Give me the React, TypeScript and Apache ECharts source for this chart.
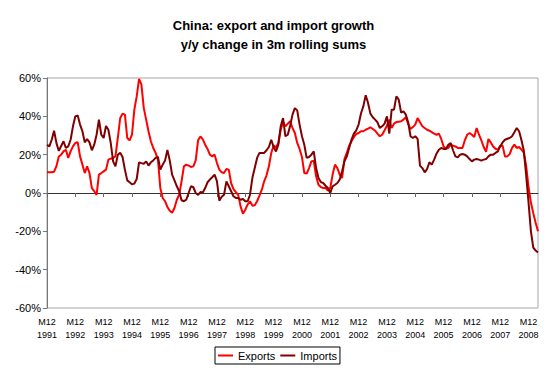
import React, { useEffect, useRef } from "react";
import * as echarts from "echarts";

// Monthly categories from M12 1991 to M4 2009
const START_YEAR = 1991;
const START_MONTH = 12;
const N_MONTHS = 209;
const categories: string[] = Array.from({ length: N_MONTHS }, (_, i) => {
  const m0 = START_MONTH - 1 + i;
  return `M${(m0 % 12) + 1} ${START_YEAR + Math.floor(m0 / 12)}`;
});

const yTicks = [-60, -40, -20, 0, 20, 40, 60];

const exportsGrowth: number[] = [
  10.8, 10.8, 10.8, 11.1, 14, 19, 20, 21.7, 22.6, 18.3, 21.7, 24.3,
  26.1, 26.5, 19.1, 14.8, 10.4, 13.9, 10.4, 2.6, 1, -1, 9.6, 10.4,
  11.3, 12.2, 17.4, 17.9, 18.3, 19.1, 28.7, 39, 41.4, 40.9, 28.7, 27.5,
  30.4, 43.5, 50.4, 59.5, 56.5, 44.3, 38.3, 32.2, 27, 23.5, 20.9, 17.4,
  2.6, -2.6, -4.3, -7.3, -9.3, -10.3, -7.8, -3.5, -0.9, 6.1, 13.9, 14.8,
  14.3, 13.6, 13.9, 17, 27.5, 29.5, 28, 25.2, 23, 20, 19.1, 20,
  15.6, 12.2, 10.8, 10.4, 12.5, 12.2, 5.2, 2, 0.5, -1, -7, -10.8,
  -8.7, -6, -4.3, -6.6, -6.4, -4.3, -1.4, 1.7, 6.1, 9.2, 13.9, 20.9,
  24.7, 23.8, 26.1, 33, 36.9, 34.8, 36.2, 37.4, 33.9, 31.3, 26.1, 23,
  18.8, 10.4, 10.1, 13, 16.5, 16.9, 8.7, 4.3, 3.1, 2.6, 2.6, 1.2,
  2.6, 9.6, 14.8, 13, 9.6, 7.8, 17.7, 20.9, 24.7, 27, 29.2, 30.8,
  31.3, 32.2, 32.2, 33, 33.6, 34.3, 33.4, 32.5, 31, 29.6, 30.4, 32.7,
  35.1, 38.3, 33.9, 36.2, 37, 37.2, 37.4, 38.3, 39.5, 36, 33.4, 34.4,
  35.7, 39.1, 36.9, 34.8, 33.9, 33, 32.5, 31.8, 31, 30.4, 31, 28.2,
  24.3, 23.1, 23.5, 25.2, 24.7, 24.3, 23.5, 23.5, 23.5, 27.5, 30.4, 31.3,
  30.4, 29.2, 33.9, 30.4, 27.5, 24, 21.5, 28.2, 26.4, 24.3, 23.1, 22.6,
  24.7, 24.7, 19.1, 19.1, 20.3, 23.5, 25.2, 23.5, 24, 22.6, 21, 14,
  3, -5, -10.5, -15.5, -20,
];

const importsGrowth: number[] = [
  25.2, 24.3, 27.8, 32.5, 26, 22, 24.5, 27, 23.5, 24.3, 27.8, 34.8,
  40, 40.5, 35.7, 32.2, 26.4, 28.2, 26.4, 22.3, 25.2, 30.4, 38.3, 30.4,
  28.7, 35, 33, 26.1, 16.5, 13.9, 20, 21, 18.8, 12.2, 6.6, 5.6,
  4.5, 4.9, 7.3, 16, 15.6, 15.3, 16.5, 14.3, 16, 17, 18.3, 18.8,
  12.2, 14.8, 16.9, 22.5, 17, 9.6, 6.6, 3.5, 0.9, -3.8, -4.3, -3.5,
  0, 3.5, 3, 0, -1, 0.5, 0.3, 2.6, 5.6, 7, 8.2, 9.6,
  6.1, -4, -2, -0.9, 6.1, 3.5, 0.9, -1.7, -2.6, -2.6, -3.5, -3.1,
  -4.3, -4.3, -0.9, 7.8, 13, 18.3, 20.9, 20.9, 20.9, 22.3, 24, 27.8,
  24, 21.7, 25.2, 34.8, 39.1, 29.6, 30.4, 35.1, 40.9, 44.3, 43.1, 35.7,
  29.6, 25.2, 18.3, 18.8, 20, 21.7, 13, 7.8, 5.7, 5.2, 3.8, 2.6,
  0, 3.5, 4.3, 5.2, 7, 11.3, 16.5, 19.1, 23.5, 27.8, 31, 32.7,
  35.7, 41.5, 45.2, 51, 47, 41.4, 39.5, 38.3, 36.9, 33.9, 34.8, 36.2,
  40, 31, 43.5, 43.5, 50.4, 48.7, 42, 42.6, 40.9, 36.9, 29.6, 28.7,
  29.6, 28.2, 14.3, 13, 10.8, 12.5, 16, 14.8, 17.4, 20.5, 22.6, 23.5,
  23, 23, 25.2, 26.1, 22.3, 19.1, 18.6, 20, 20.3, 20, 19.1, 17.7,
  16.5, 17.4, 17.7, 17.4, 16.9, 17.4, 17.7, 19.1, 20, 20, 20.9, 21.7,
  24.3, 26.4, 27.8, 28.3, 28.7, 29.6, 31.7, 33.9, 32.2, 27.5, 22, 9,
  -5, -20, -28.5, -30, -31,
];

const FONT = '"Liberation Sans", Arial, sans-serif';

export default function App() {
  const ref = useRef<HTMLDivElement>(null);

  useEffect(() => {
    if (!ref.current) return;
    const chart = echarts.init(ref.current, undefined, { renderer: "svg" });
    chart.setOption({
      animation: false,
      backgroundColor: "#ffffff",
      textStyle: { fontFamily: FONT },
      title: {
        text: "China: export and import growth\ny/y change in 3m rolling sums",
        left: "center",
        top: 11,
        textStyle: {
          fontFamily: FONT,
          fontSize: 13,
          fontWeight: "bold",
          color: "#000",
          lineHeight: 19,
        },
      },
      legend: {
        data: ["Exports", "Imports"],
        left: 215,
        top: 347,
        icon: "rect",
        itemWidth: 15,
        itemHeight: 2,
        itemGap: 5,
        padding: [3, 3, 3, 3],
        borderColor: "#000",
        borderWidth: 1,
        textStyle: { fontFamily: FONT, fontSize: 11, color: "#000" },
      },
      grid: {
        left: 47,
        right: 9,
        top: 78,
        bottom: 66,
        show: true,
        borderColor: "#a6a6a6",
        borderWidth: 1,
        backgroundColor: "transparent",
      },
      xAxis: [
        {
          type: "category",
          data: categories,
          boundaryGap: false,
          position: "bottom",
          axisLine: { onZero: true, lineStyle: { color: "#333", width: 1 } },
          axisTick: {
            show: true,
            interval: 11,
            length: 4,
            inside: false,
            lineStyle: { color: "#666" },
          },
          axisLabel: { show: false },
          splitLine: { show: false },
        },
        {
          type: "category",
          data: categories,
          boundaryGap: false,
          position: "bottom",
          axisLine: { show: false, onZero: false },
          axisTick: { show: false },
          axisLabel: {
            show: true,
            interval: 11,
            margin: 7,
            fontFamily: FONT,
            fontSize: 9,
            lineHeight: 13,
            color: "#000",
            formatter: (v: string) => v.replace(" ", "\n"),
          },
          splitLine: { show: false },
        },
      ],
      yAxis: {
        type: "value",
        min: yTicks[0],
        max: yTicks[yTicks.length - 1],
        interval: 20,
        axisLine: { show: true, lineStyle: { color: "#777", width: 1 } },
        axisTick: { show: true, length: 4, lineStyle: { color: "#777" } },
        axisLabel: {
          margin: 6,
          fontFamily: FONT,
          fontSize: 11,
          color: "#000",
          formatter: "{value}%",
        },
        splitLine: { show: false },
      },
      series: [
        {
          name: "Exports",
          type: "line",
          xAxisIndex: 0,
          data: exportsGrowth,
          showSymbol: false,
          symbol: "none",
          lineStyle: { color: "#ff0000", width: 2 },
          itemStyle: { color: "#ff0000" },
        },
        {
          name: "Imports",
          type: "line",
          xAxisIndex: 0,
          data: importsGrowth,
          showSymbol: false,
          symbol: "none",
          lineStyle: { color: "#800000", width: 2 },
          itemStyle: { color: "#800000" },
        },
      ],
    });
    return () => chart.dispose();
  }, []);

  return (
    <div
      ref={ref}
      style={{ position: "absolute", left: 0, top: 0, width: 547, height: 374 }}
    />
  );
}
